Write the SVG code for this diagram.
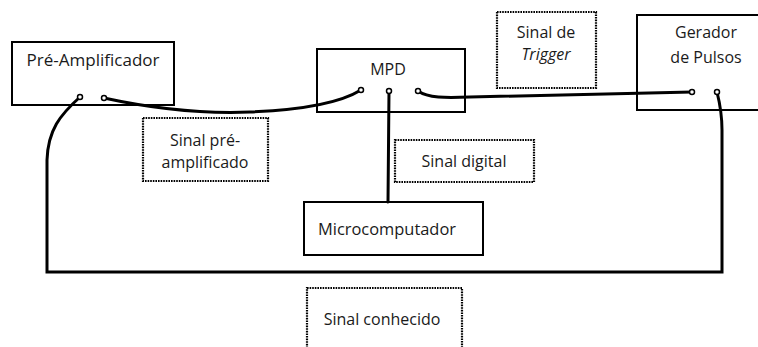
<svg xmlns="http://www.w3.org/2000/svg" width="758" height="347" viewBox="0 0 758 347">
<style>
.box{fill:#fff;stroke:#000;stroke-width:2}
.lbl{fill:#fff;stroke:#000;stroke-width:2.2;stroke-dasharray:1.6 1}
.t{font-family:"Open Sans","Liberation Sans",sans-serif;font-size:16px;fill:#1a1a1a;text-anchor:middle}
.w{fill:none;stroke:#000;stroke-width:3;stroke-linecap:round}
.port{fill:#fff;stroke:#000;stroke-width:1.5}
</style>
<rect width="758" height="347" fill="#fff"/>
<g id="pre-amplificador">
<rect class="box" x="12" y="42" width="162" height="63"/>
<text class="t" x="93" y="66" textLength="133" lengthAdjust="spacingAndGlyphs">Pré-Amplificador</text>
</g>
<g id="mpd">
<rect class="box" x="317" y="49" width="148" height="63"/>
<text class="t" x="388" y="75">MPD</text>
</g>
<g id="gerador">
<rect class="box" x="637" y="15" width="130" height="95"/>
<text class="t" x="706" y="38">Gerador</text>
<text class="t" x="706" y="63">de Pulsos</text>
</g>
<g id="microcomputador">
<rect class="box" x="304" y="202" width="179" height="53"/>
<text class="t" x="387" y="235" textLength="138" lengthAdjust="spacingAndGlyphs">Microcomputador</text>
</g>
<g id="sinal-trigger">
<rect class="lbl" x="497" y="12" width="99" height="76"/>
<text class="t" x="546" y="38">Sinal de</text>
<text class="t" x="546" y="60" font-style="italic">Trigger</text>
</g>
<g id="sinal-pre-amplificado">
<rect class="lbl" x="143" y="118" width="125" height="63"/>
<text class="t" x="205" y="146">Sinal pré-</text>
<text class="t" x="205" y="168">amplificado</text>
</g>
<g id="sinal-digital">
<rect class="lbl" x="395" y="140" width="139" height="42"/>
<text class="t" x="464" y="167">Sinal digital</text>
</g>
<g id="sinal-conhecido">
<rect class="lbl" x="307" y="288" width="155" height="70"/>
<text class="t" x="382" y="325">Sinal conhecido</text>
</g>
<g id="connectors">
<path class="w" d="M80,97 C60,115 48,130 47,160 L47,272 L722,272 L722,130 C722,112 719,100 717,92"/>
<path class="w" d="M104,98 C150,108 200,114 250,112 C300,110 340,103 361,90"/>
<path class="w" d="M389,91 L388,202"/>
<path class="w" d="M418,91 C428,98 445,98 470,97 L692,92"/>
</g>
<g id="ports">
<circle class="port" cx="80" cy="97" r="2.5"/>
<circle class="port" cx="104" cy="98" r="2.5"/>
<circle class="port" cx="361" cy="90" r="2.5"/>
<circle class="port" cx="389" cy="91" r="2.5"/>
<circle class="port" cx="418" cy="91" r="2.5"/>
<circle class="port" cx="692" cy="92" r="2.5"/>
<circle class="port" cx="717" cy="92" r="2.5"/>
</g>
</svg>
